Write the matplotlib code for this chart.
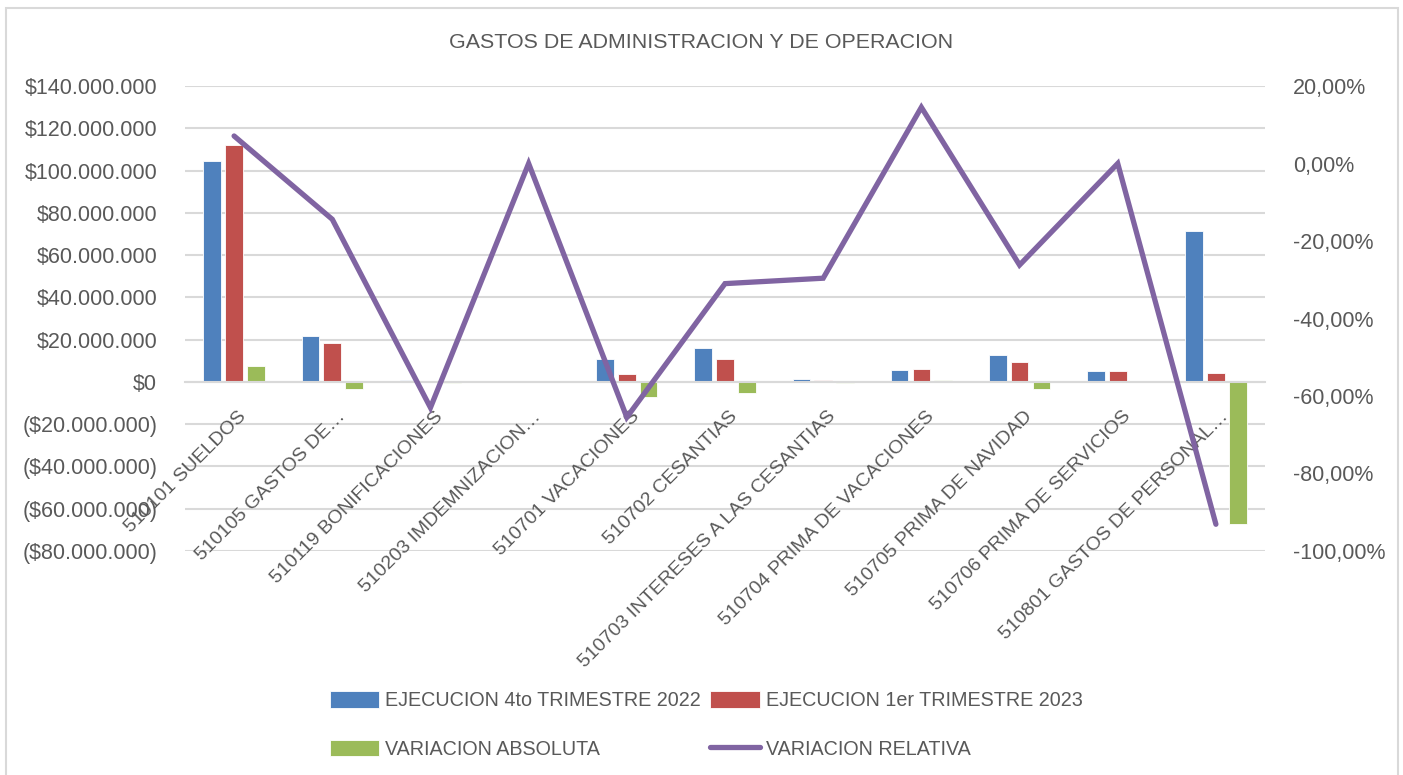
import matplotlib
matplotlib.use("Agg")
from matplotlib import pyplot as plt
from matplotlib.patches import Rectangle
from matplotlib.ticker import FuncFormatter
from matplotlib.transforms import ScaledTranslation
import numpy as np

plt.rcParams['font.family'] = ['Liberation Sans', 'DejaVu Sans']

# datos
categorias = ['510101 SUELDOS', '510105 GASTOS DE…', '510119 BONIFICACIONES',
              '510203 IMDEMNIZACION…', '510701 VACACIONES', '510702 CESANTIAS',
              '510703 INTERESES A LAS CESANTIAS', '510704 PRIMA DE VACACIONES',
              '510705 PRIMA DE NAVIDAD', '510706 PRIMA DE SERVICIOS',
              '510801 GASTOS DE PERSONAL…']
ejec_2022 = [104.6e6, 21.7e6, 0.8e6, 0, 11.0e6, 15.9e6, 1.4e6, 5.5e6, 12.6e6, 5.2e6, 71.6e6]
ejec_2023 = [112.2e6, 18.4e6, 0.3e6, 0, 3.8e6, 10.8e6, 0.9e6, 6.3e6, 9.2e6, 5.2e6, 4.4e6]
var_abs = [7.6e6, -3.3e6, -0.5e6, 0, -7.2e6, -5.1e6, -0.5e6, 0.8e6, -3.4e6, 0, -67.2e6]
var_rel = [0.071, -0.144, -0.63, 0.0, -0.655, -0.31, -0.296, 0.145, -0.262, 0.0, -0.931]

azul = '#4F81BD'
rojo = '#C0504D'
verde = '#9BBB59'
morado = '#8064A2'
gris = '#595959'
rejilla = '#D9D9D9'

fig = plt.figure(figsize=(14.03, 7.75), dpi=100)
ax = fig.add_axes([185/1403, 1-551/775, 1080/1403, 465/775])
x = np.arange(len(categorias))
w = 0.18
d = 0.222
b1 = ax.bar(x - d, ejec_2022, w, color=azul, edgecolor='white', linewidth=0.6,
            label='EJECUCION 4to TRIMESTRE 2022')
b2 = ax.bar(x, ejec_2023, w, color=rojo, edgecolor='white', linewidth=0.6,
            label='EJECUCION 1er TRIMESTRE 2023')
b3 = ax.bar(x + d, var_abs, w, color=verde, edgecolor='white', linewidth=0.6,
            label='VARIACION ABSOLUTA')

ax.set_xlim(-0.5, len(categorias) - 0.5)
ax.set_ylim(-80e6, 140e6)
ax.set_yticks(np.arange(-80e6, 140e6 + 1, 20e6))


def pesos(v, pos):
    s = '{:,.0f}'.format(abs(v)).replace(',', '.')
    if v < 0:
        return '($' + s + ')'
    return '$' + s


ax.yaxis.set_major_formatter(FuncFormatter(pesos))
ax.grid(axis='y', color=rejilla, linewidth=1.5)
ax.set_axisbelow(True)
for s in ['left', 'right', 'top']:
    ax.spines[s].set_visible(False)
ax.spines['bottom'].set_position(('data', 0))
ax.spines['bottom'].set_color(rejilla)
ax.spines['bottom'].set_linewidth(1.5)
ax.set_xticks([])
ax.tick_params(axis='y', length=0, pad=20, labelsize=15.5, labelcolor=gris)

# etiquetas de categoria a 45 grados
desp = ScaledTranslation(10/100, -32/100, fig.dpi_scale_trans)
for i, c in enumerate(categorias):
    ax.text(i, 0, c, rotation=45, ha='right', va='center', rotation_mode='anchor',
            fontsize=14, color=gris, transform=ax.transData + desp)

ax2 = ax.twinx()
l1, = ax2.plot(x, var_rel, color=morado, linewidth=3.8, solid_capstyle='round',
               solid_joinstyle='miter', label='VARIACION RELATIVA')
ax2.set_ylim(-1.0, 0.2)
ax2.set_yticks(np.arange(-1.0, 0.21, 0.2))
ax2.yaxis.set_major_formatter(FuncFormatter(lambda v, p: '{:.2f}%'.format(v*100).replace('.', ',').replace('-0,00', '0,00')))
for s in ['left', 'right', 'top', 'bottom']:
    ax2.spines[s].set_visible(False)
ax2.tick_params(axis='y', length=0, pad=20, labelsize=15.5, labelcolor=gris)

fig.text(0.5, 1-43/775, 'GASTOS DE ADMINISTRACION Y DE OPERACION', ha='center', va='center',
         fontsize=15.4, color=gris)

fig.legend([b1, b3, b2, l1],
           ['EJECUCION 4to TRIMESTRE 2022', 'VARIACION ABSOLUTA',
            'EJECUCION 1er TRIMESTRE 2023', 'VARIACION RELATIVA'],
           ncol=2, loc='center', bbox_to_anchor=(706/1403, 1-725/775), frameon=False,
           fontsize=14.2, labelcolor=gris, handlelength=2.5, handleheight=0.9,
           handletextpad=0.3, columnspacing=0.5, labelspacing=1.5)

fig.patches.append(Rectangle((6/1403, -0.02), 1392/1403, 1.02 - 8/775, transform=fig.transFigure,
                             fill=False, edgecolor=rejilla, linewidth=1.5))

fig.savefig('out.png', dpi=100)
